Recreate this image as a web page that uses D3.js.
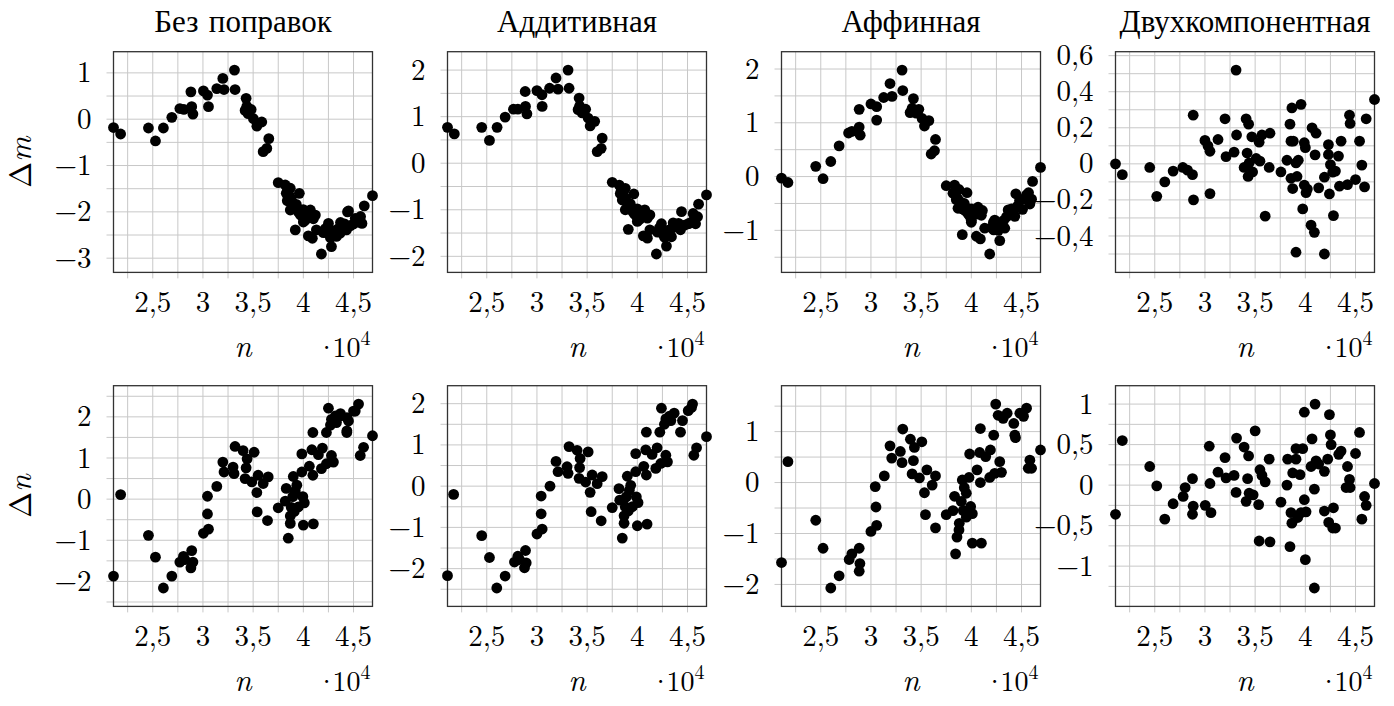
<!DOCTYPE html>
<html>
<head>
<meta charset="utf-8">
<script src="https://cdn.jsdelivr.net/npm/d3@7"></script>
<style>
    body { margin: 0; background: #fff; }
</style>
</head>
<body>
<div id="chart"></div>
<script>
/*
 *  DATA BLOCK STARTS
 *  points are [n / 10^4, delta]
 */
var panel_titles = ["Без поправок", "Аддитивная", "Аффинная", "Двухкомпонентная"];
var row_symbols = ["m", "n"];
var x_ticks = [2.5, 3, 3.5, 4, 4.5];
var x_minor_step = 0.25;
var n_extent = [2.109, 4.689];
// [major, minor] y grid steps for every panel, row by row
var y_steps = [[1, 0.5], [1, 0.5], [1, 0.5], [0.2, 0.1],
               [1, 0.5], [1, 0.5], [1, 0.5], [0.5, 0.25]];

var dm_none = [[2.109,-0.18],[2.18,-0.32],[2.457,-0.19],[2.527,-0.47],[2.606,-0.19],[2.69,0.04],[2.77,0.23],[2.81,0.21],
    [2.88,0.59],[2.888,0.27],[2.90,0.11],[3.005,0.61],[3.045,0.52],[3.055,0.27],[3.138,0.66],[3.198,0.88],[3.21,0.64],
    [3.314,1.06],[3.32,0.64],[3.43,0.45],[3.437,0.28],[3.42,0.19],[3.45,0.12],[3.48,0.21],[3.503,0.01],[3.537,-0.15],
    [3.586,-0.06],[3.60,-0.70],[3.636,-0.63],[3.656,-0.42],[3.75,-1.37],[3.82,-1.42],[3.83,-1.60],[3.87,-1.49],[3.84,-1.76],
    [3.87,-1.96],[3.90,-1.85],[3.92,-2.39],[3.96,-1.60],[3.985,-2.03],[4.02,-2.18],[4.07,-1.96],[4.12,-2.07],[4.05,-2.52],
    [4.09,-2.57],[4.13,-2.39],[4.18,-2.91],[4.25,-2.25],[4.24,-2.46],[4.28,-2.75],[4.33,-2.53],[4.37,-2.23],[4.44,-2.00],
    [4.43,-2.39],[4.50,-2.26],[4.367,-2.46],[4.45,-1.98],[4.517,-2.14],[4.584,-2.25],[4.607,-1.87],[4.689,-1.65],
    [3.84,-1.55],[3.86,-1.65],[3.88,-1.72],[3.89,-1.80],[3.91,-1.90],[3.93,-1.95],[3.95,-2.00],[3.97,-2.06],[3.99,-2.10],
    [4.00,-1.95],[4.03,-2.05],[4.05,-2.12],[4.08,-2.05],[4.10,-2.15],[3.93,-1.84],[4.00,-2.22],[4.20,-2.45],[4.22,-2.36],
    [4.26,-2.40],[4.27,-2.56],[4.30,-2.45],[4.32,-2.40],[4.35,-2.36],[4.39,-2.30],[4.41,-2.26],[4.47,-2.30],[4.55,-2.22],
    [4.57,-2.10]];

var dm_add = [[2.109,0.77],[2.177,0.63],[2.45,0.77],[2.527,0.49],[2.603,0.77],[2.683,0.99],[2.766,1.16],[2.81,1.16],
    [2.883,1.54],[2.886,1.22],[2.90,1.06],[3.0,1.56],[3.05,1.47],[3.052,1.22],[3.126,1.61],[3.19,1.83],[3.21,1.59],
    [3.31,2.0],[3.32,1.61],[3.42,1.40],[3.425,1.23],[3.41,1.15],[3.45,1.08],[3.485,1.16],[3.51,0.97],[3.53,0.80],
    [3.575,0.90],[3.60,0.25],[3.64,0.32],[3.65,0.54],[3.75,-0.41],[3.82,-0.47],[3.83,-0.65],[3.88,-0.54],[3.85,-0.79],
    [3.88,-1.0],[3.91,-0.90],[3.91,-1.42],[3.965,-0.66],[3.99,-1.08],[4.025,-1.2],[4.074,-1.0],[4.125,-1.11],[4.06,-1.56],
    [4.10,-1.61],[4.125,-1.43],[4.19,-1.95],[4.24,-1.30],[4.25,-1.51],[4.29,-1.78],[4.34,-1.58],[4.357,-1.28],[4.44,-1.04],
    [4.43,-1.43],[4.507,-1.30],[4.556,-1.08],[4.52,-1.29],[4.61,-0.88],[4.689,-0.68],
    [3.84,-0.58],[3.86,-0.68],[3.88,-0.75],[3.89,-0.83],[3.91,-0.93],[3.93,-0.98],[3.95,-1.03],[3.97,-1.09],[3.99,-1.13],
    [4.00,-0.98],[4.03,-1.08],[4.05,-1.15],[4.08,-1.08],[4.10,-1.18],[3.93,-0.87],[4.00,-1.25],[4.20,-1.48],[4.22,-1.39],
    [4.26,-1.43],[4.27,-1.59],[4.30,-1.48],[4.32,-1.43],[4.35,-1.39],[4.39,-1.33],[4.41,-1.29],[4.47,-1.33],[4.55,-1.25],
    [4.58,-1.30],[4.60,-1.15]];

var dm_aff = [[2.109,-0.03],[2.173,-0.11],[2.45,0.19],[2.523,-0.04],[2.60,0.28],[2.683,0.57],[2.777,0.81],[2.81,0.84],
    [2.883,1.25],[2.883,0.92],[2.893,0.77],[3.0,1.35],[3.057,1.30],[3.057,1.05],[3.127,1.47],[3.19,1.73],[3.21,1.49],
    [3.31,1.98],[3.317,1.60],[3.423,1.45],[3.41,1.27],[3.39,1.19],[3.45,1.18],[3.477,1.25],[3.51,1.08],[3.533,0.94],
    [3.577,1.04],[3.60,0.42],[3.633,0.48],[3.643,0.69],[3.75,-0.17],[3.833,-0.16],[3.817,-0.31],[3.877,-0.24],[3.85,-0.43],
    [3.867,-0.59],[3.90,-0.51],[3.91,-1.08],[3.957,-0.30],[3.983,-0.68],[4.0,-0.81],[4.067,-0.57],[4.11,-0.63],[4.05,-1.11],
    [4.09,-1.16],[4.133,-0.96],[4.183,-1.44],[4.233,-0.81],[4.223,-0.99],[4.283,-1.19],[4.333,-0.96],[4.367,-0.62],
    [4.443,-0.32],[4.433,-0.74],[4.51,-0.61],[4.55,-0.34],[4.583,-0.51],[4.60,-0.42],[4.61,-0.09],[4.689,0.17],
    [3.84,-0.30],[3.86,-0.40],[3.88,-0.45],[3.89,-0.55],[3.91,-0.60],[3.93,-0.62],[3.95,-0.65],[3.97,-0.70],[3.99,-0.75],
    [4.00,-0.60],[4.03,-0.65],[4.05,-0.70],[4.08,-0.65],[4.10,-0.72],[3.93,-0.50],[4.00,-0.85],[4.20,-0.95],[4.22,-0.85],
    [4.26,-0.88],[4.27,-1.00],[4.30,-0.90],[4.32,-0.82],[4.35,-0.75],[4.38,-0.70],[4.40,-0.60],[4.42,-0.65],[4.46,-0.55],
    [4.48,-0.45],[4.52,-0.42],[4.55,-0.40],[4.57,-0.30]];

var dm_two = [[2.109,0.0],[2.177,-0.06],[2.45,-0.02],[2.52,-0.18],[2.60,-0.10],[2.683,-0.04],[2.78,-0.02],[2.826,-0.035],
    [2.876,-0.06],[2.883,0.27],[2.886,-0.20],[3.0,0.13],[3.03,0.10],[3.05,0.07],[3.05,-0.165],[3.13,0.135],[3.20,0.25],
    [3.21,0.04],[3.29,0.065],[3.31,0.52],[3.315,0.16],[3.39,-0.02],[3.41,0.25],[3.42,0.06],[3.43,-0.07],[3.435,0.22],
    [3.44,0.005],[3.467,0.15],[3.475,-0.045],[3.51,0.03],[3.54,0.12],[3.548,0.015],[3.568,0.16],[3.60,-0.29],[3.64,-0.02],
    [3.648,0.17],[3.757,-0.045],[3.817,0.02],[3.847,0.22],[3.857,-0.08],[3.866,0.31],[3.857,0.126],[3.874,-0.137],
    [3.88,0.126],[3.907,-0.49],[3.907,0.005],[3.917,-0.07],[3.93,0.02],[3.957,0.33],[3.974,-0.25],[3.99,0.117],[3.99,-0.118],
    [4.0,0.09],[4.007,-0.16],[4.02,-0.14],[4.057,-0.34],[4.067,0.20],[4.09,-0.38],[4.097,0.05],[4.107,0.17],[4.133,-0.133],
    [4.19,-0.50],[4.19,-0.074],[4.23,0.107],[4.23,0.052],[4.24,-0.167],[4.25,-0.004],[4.273,-0.046],[4.28,-0.287],
    [4.30,-0.04],[4.33,0.043],[4.34,-0.124],[4.356,0.126],[4.42,-0.115],[4.44,0.27],[4.446,0.224],[4.50,-0.087],
    [4.54,0.126],[4.563,-0.007],[4.59,-0.128],[4.606,0.25],[4.689,0.357]];

var dn_none = [[2.109,-1.87],[2.18,0.11],[2.457,-0.88],[2.527,-1.41],[2.606,-2.16],[2.69,-1.87],[2.77,-1.53],[2.806,-1.39],
    [2.82,-1.47],[2.888,-1.25],[2.90,-1.53],[2.88,-1.67],[3.005,-0.83],[3.055,-0.73],[3.045,-0.36],[3.045,0.07],[3.138,0.31],
    [3.198,0.90],[3.21,0.66],[3.30,0.78],[3.32,1.28],[3.31,0.62],[3.40,1.18],[3.43,0.76],[3.44,0.98],[3.51,1.14],[3.42,0.50],
    [3.487,0.42],[3.55,0.58],[3.537,0.16],[3.54,-0.31],[3.60,0.38],[3.65,0.54],[3.643,-0.52],[3.75,-0.21],[3.82,-0.05],
    [3.83,0.26],[3.85,-0.95],[3.87,-0.59],[3.87,-0.41],[3.90,0.55],[3.895,0.06],[3.935,0.34],[3.95,-0.19],[3.985,0.66],
    [3.995,0.06],[4.01,-0.09],[4.0,-0.63],[3.985,1.10],[4.06,0.80],[4.085,1.20],[4.095,1.62],[4.10,-0.60],[4.095,0.58],
    [4.15,1.08],[4.19,1.24],[4.18,0.74],[4.23,0.86],[4.25,2.21],[4.23,1.62],[4.28,1.06],[4.30,0.90],[4.28,1.94],[4.33,1.86],
    [4.37,2.08],[4.433,1.62],[4.45,1.90],[4.50,2.14],[4.367,2.02],[4.434,1.98],[4.434,1.66],[4.517,2.14],[4.55,2.31],
    [4.567,1.06],[4.60,1.26],[4.689,1.54],[3.88,-0.20],[3.92,0.20],[3.91,-0.30],[4.27,1.80],[4.32,2.02]];

var dn_add = [[2.109,-2.17],[2.17,-0.20],[2.45,-1.20],[2.527,-1.73],[2.60,-2.47],[2.683,-2.18],[2.776,-1.84],[2.81,-1.70],
    [2.826,-1.78],[2.886,-1.56],[2.893,-1.86],[2.876,-1.98],[3.0,-1.16],[3.052,-1.04],[3.042,-0.67],[3.042,-0.24],[3.13,0.0],
    [3.19,0.60],[3.21,0.35],[3.30,0.47],[3.32,0.96],[3.31,0.31],[3.40,0.87],[3.425,0.45],[3.43,0.67],[3.51,0.83],[3.42,0.19],
    [3.485,0.10],[3.55,0.27],[3.53,-0.15],[3.54,-0.62],[3.60,0.06],[3.65,0.23],[3.64,-0.84],[3.75,-0.52],[3.817,-0.06],
    [3.825,-0.34],[3.85,-1.26],[3.868,-0.90],[3.868,-0.72],[3.90,0.24],[3.89,-0.26],[3.934,0.02],[3.95,-0.50],[3.984,0.35],
    [3.99,-0.26],[4.007,-0.40],[4.0,-0.96],[3.984,0.79],[4.064,0.48],[4.084,0.88],[4.09,1.31],[4.097,-0.92],[4.09,0.27],
    [4.147,0.77],[4.197,0.93],[4.184,0.43],[4.234,0.55],[4.24,1.89],[4.224,1.31],[4.284,0.75],[4.30,0.59],[4.284,1.63],
    [4.334,1.59],[4.367,1.77],[4.43,1.31],[4.45,1.59],[4.507,1.83],[4.55,1.99],[4.54,1.91],[4.59,0.93],[4.563,0.75],
    [4.689,1.20],[3.88,-0.50],[3.92,-0.10],[3.91,-0.60],[4.27,1.50],[4.32,1.70]];

var dn_aff = [[2.109,-1.57],[2.173,0.41],[2.45,-0.74],[2.523,-1.29],[2.60,-2.07],[2.683,-1.83],[2.783,-1.51],[2.81,-1.40],
    [2.883,-1.29],[2.89,-1.59],[2.883,-1.74],[3.0,-0.96],[3.057,-0.84],[3.05,-0.48],[3.043,-0.08],[3.133,0.13],[3.19,0.72],
    [3.207,0.48],[3.293,0.61],[3.317,1.05],[3.31,0.39],[3.393,0.85],[3.423,0.43],[3.433,0.69],[3.507,0.80],[3.41,0.17],
    [3.483,0.09],[3.557,0.25],[3.533,-0.20],[3.543,-0.63],[3.61,-0.05],[3.643,0.13],[3.643,-0.89],[3.75,-0.63],[3.817,-0.55],
    [3.833,-0.27],[3.843,-1.40],[3.857,-1.07],[3.877,-0.93],[3.91,0.05],[3.90,-0.37],[3.95,-0.21],[3.95,-0.68],[3.977,0.10],
    [3.993,-0.47],[4.01,-0.61],[4.01,-1.19],[3.983,0.56],[4.057,0.25],[4.083,0.59],[4.09,1.06],[4.10,-1.19],[4.09,0.0],
    [4.143,0.51],[4.19,0.64],[4.183,0.10],[4.233,0.18],[4.243,1.54],[4.223,0.93],[4.283,0.41],[4.30,0.20],[4.267,1.32],
    [4.317,1.26],[4.357,1.36],[4.433,0.93],[4.423,1.16],[4.483,1.36],[4.55,1.46],[4.583,0.44],[4.60,0.28],[4.567,0.28],
    [4.689,0.64],[3.88,-0.80],[3.92,-0.55],[3.93,-0.10],[4.44,0.88],[4.52,1.30]];

var dn_two = [[2.109,-0.36],[2.177,0.55],[2.45,0.23],[2.52,-0.01],[2.60,-0.42],[2.683,-0.23],[2.783,-0.14],[2.803,-0.03],
    [2.876,0.08],[2.883,-0.26],[2.876,-0.36],[3.003,-0.25],[3.043,0.48],[3.05,0.02],[3.06,-0.34],[3.13,0.16],[3.20,0.34],
    [3.21,0.09],[3.29,0.12],[3.315,0.58],[3.31,-0.09],[3.39,0.47],[3.425,0.08],[3.435,0.36],[3.41,-0.20],[3.44,-0.10],
    [3.48,-0.12],[3.50,0.67],[3.535,-0.24],[3.54,-0.69],[3.548,0.19],[3.568,0.12],[3.60,0.04],[3.64,0.32],[3.648,-0.70],
    [3.757,-0.21],[3.817,0.0],[3.824,0.32],[3.847,-0.76],[3.857,-0.34],[3.866,-0.47],[3.874,0.15],[3.907,0.45],[3.907,0.32],
    [3.924,-0.40],[3.947,0.13],[3.957,-0.34],[3.974,0.45],[3.99,-0.18],[3.99,0.90],[4.0,-0.92],[4.007,-0.33],[4.057,0.23],
    [4.067,0.57],[4.09,-0.05],[4.097,1.0],[4.107,0.30],[4.09,-1.27],[4.133,0.26],[4.19,0.17],[4.19,-0.32],[4.223,0.32],
    [4.24,0.87],[4.233,-0.46],[4.25,0.62],[4.257,0.50],[4.273,-0.53],[4.28,-0.28],[4.30,-0.53],[4.333,0.38],[4.356,0.42],
    [4.42,0.23],[4.406,-0.03],[4.44,0.07],[4.446,-0.03],[4.50,0.39],[4.54,0.65],[4.563,-0.42],[4.59,-0.14],[4.606,-0.25],
    [4.689,0.02]];

var panel_data = [dm_none, dm_add, dm_aff, dm_two, dn_none, dn_add, dn_aff, dn_two];
/*
 *  DATA BLOCK ENDS
 */

var view_width = 1394;
var view_height = 706;
var plot_left = 113.5;
var col_step = 334;
var plot_w = 259;
var row_tops = [51.7, 385.7];
var plot_h = 220.7;
var grid_color = "#c8c8c8";
var font_family = "'Latin Modern Roman', 'Liberation Serif', serif";

var fmt = d3.formatLocale({decimal: ",", thousands: "\u00a0", grouping: [3],
    currency: ["", ""], minus: "\u2212"}).format("~g");

var svg = d3.select("#chart")
    .append("svg")
        .attr("width", view_width)
        .attr("height", view_height)
        .attr("font-family", font_family);

function steps(lo, hi, step) {
    var out = [];
    for (var k = Math.ceil(lo / step - 1e-9); k * step <= hi + 1e-9; k++) {
        out.push(+(k * step).toFixed(6));
    }
    return out;
}

panel_data.forEach(function (pts, i) {
    var row = Math.floor(i / 4), col = i % 4;
    var left = plot_left + col * col_step;
    var top = row_tops[row];
    var g = svg.append("g")
        .attr("transform", "translate(" + left + "," + top + ")");

    // pgfplots style: x limits = data, y limits enlarged by 10%
    var ext = d3.extent(pts, function (d) { return d[1]; });
    var pad = (ext[1] - ext[0]) * 0.1;

    var x_scale = d3.scaleLinear()
        .domain(n_extent)
        .range([0, plot_w]);
    var y_scale = d3.scaleLinear()
        .domain([ext[0] - pad, ext[1] + pad])
        .range([plot_h, 0]);

    var inside = function (px, len) { return px > 1.5 && px < len - 1.5; };

    var x_grid = steps(n_extent[0], n_extent[1], x_minor_step)
        .filter(function (v) { return inside(x_scale(v), plot_w); });
    var y_grid = steps(y_scale.domain()[0], y_scale.domain()[1], y_steps[i][1])
        .filter(function (v) { return inside(y_scale(v), plot_h); });
    var y_major = steps(y_scale.domain()[0], y_scale.domain()[1], y_steps[i][0])
        .filter(function (v) { return inside(y_scale(v), plot_h); });

    g.selectAll(".xgrid")
        .data(x_grid)
        .enter()
        .append("line")
        .attr("x1", function (d) { return x_scale(d); })
        .attr("x2", function (d) { return x_scale(d); })
        .attr("y1", 0)
        .attr("y2", plot_h + 6)
        .attr("stroke", grid_color)
        .attr("stroke-width", 1);

    g.selectAll(".ygrid")
        .data(y_grid)
        .enter()
        .append("line")
        .attr("x1", -7)
        .attr("x2", plot_w)
        .attr("y1", function (d) { return y_scale(d); })
        .attr("y2", function (d) { return y_scale(d); })
        .attr("stroke", grid_color)
        .attr("stroke-width", 1);

    g.append("rect")
        .attr("width", plot_w)
        .attr("height", plot_h)
        .attr("fill", "none")
        .attr("stroke", "#333")
        .attr("stroke-width", 1.3);

    g.selectAll(".xlab")
        .data(x_ticks)
        .enter()
        .append("text")
        .attr("x", function (d) { return x_scale(d); })
        .attr("y", plot_h + 40)
        .attr("text-anchor", "middle")
        .attr("font-size", 29)
        .text(function (d) { return fmt(d); });

    g.selectAll(".ylab")
        .data(y_major)
        .enter()
        .append("text")
        .attr("x", -22)
        .attr("y", function (d) { return y_scale(d); })
        .attr("dy", "0.33em")
        .attr("text-anchor", "end")
        .attr("font-size", 29)
        .text(function (d) { return fmt(d); });

    g.selectAll(".dot")
        .data(pts)
        .enter()
        .append("circle")
        .attr("cx", function (d) { return x_scale(d[0]); })
        .attr("cy", function (d) { return y_scale(d[1]); })
        .attr("r", 5.4)
        .attr("fill", "#000");

    // axis label n and the 10^4 multiplier
    g.append("text")
        .attr("x", plot_w / 2)
        .attr("y", plot_h + 85)
        .attr("text-anchor", "middle")
        .attr("font-size", 31)
        .attr("font-style", "italic")
        .text("n");

    var mult = g.append("text")
        .attr("x", plot_w - 2)
        .attr("y", plot_h + 85)
        .attr("text-anchor", "end")
        .attr("font-size", 28);
    mult.append("tspan").text("\u00b7");
    mult.append("tspan")
        .attr("dx", -5)
        .text("10");
    mult.append("tspan")
        .attr("dy", -12)
        .attr("font-size", 20)
        .text("4");

    if (row === 0) {
        g.append("text")
            .attr("x", plot_w / 2)
            .attr("y", -20)
            .attr("text-anchor", "middle")
            .attr("font-size", 31)
            .text(panel_titles[col]);
    }

    if (col === 0) {
        var lab = g.append("text")
            .attr("transform", "translate(" + (31 - left) + "," + (plot_h / 2) + ")rotate(-90)")
            .attr("text-anchor", "middle")
            .attr("font-size", 31);
        lab.append("tspan").text("\u0394");
        lab.append("tspan")
            .attr("font-style", "italic")
            .text(row_symbols[row]);
    }
});
</script>
</body>
</html>
